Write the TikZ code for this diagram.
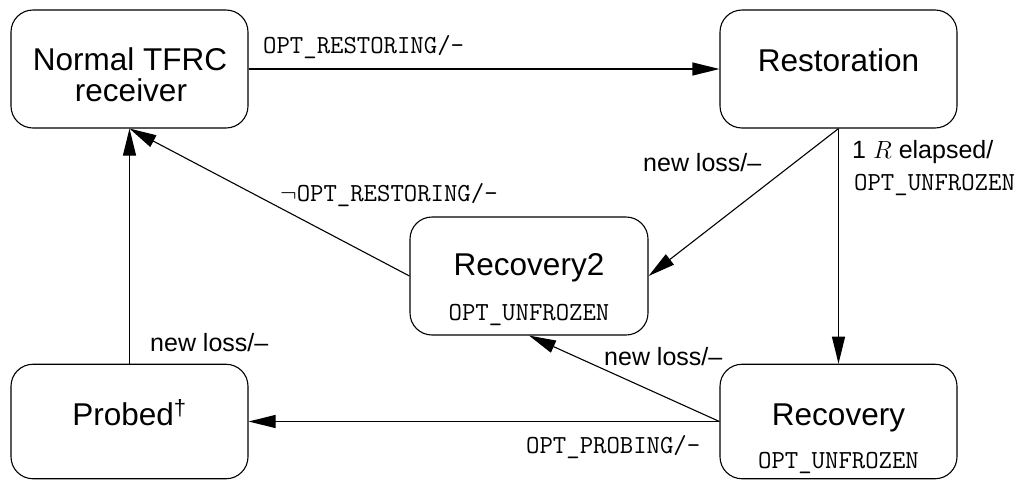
\documentclass[tikz,border=0pt]{standalone}
\usepackage{fontspec}
\setmainfont{Liberation Sans}
\usetikzlibrary{arrows.meta}
\begin{document}
\begin{tikzpicture}[x=1pt,y=-1pt,
  state/.style={draw,line width=1.1pt,rounded corners=22pt,minimum width=237pt,inner sep=0pt},
  bigtxt/.style={font=\fontsize{31.5}{31}\selectfont,inner sep=0pt,anchor=base},
  lbl/.style={font=\fontsize{25}{25}\selectfont,inner sep=0pt,anchor=base west},
  mono/.style={font=\fontsize{26}{26}\selectfont\ttfamily,inner sep=0pt},
  trans/.style={line width=1.1pt,-{Triangle[length=27pt,width=13pt]}}]
\useasboundingbox (0,0) rectangle (1024,480);
% states
\node[state,minimum height=118pt] (N) at (129.5,69) {};
\node[state,minimum height=118pt] (Rs) at (838.5,69) {};
\node[state,minimum height=118pt,minimum width=238pt] (R2) at (529,276) {};
\node[state,minimum height=114.5pt] (P) at (129.5,421.5) {};
\node[state,minimum height=114.5pt] (Rc) at (838.5,421.5) {};
% state texts
\node[bigtxt] (tN1) at (130,70) {Normal TFRC};
\node[bigtxt] (tN2) at (131,101) {receiver};
\node[bigtxt] (tRs) at (838.5,71) {Restoration};
\node[bigtxt] (tR2) at (529,275) {Recovery2};
\node[mono,anchor=base] (tR2b) at (529,320) {OPT\_UNFROZEN};
\node[bigtxt] (tP) at (129.5,425) {Probed\textsuperscript{\textdagger}};
\node[bigtxt] (tRc) at (838.5,425) {Recovery};
\node[mono,anchor=base] (tRcb) at (838.5,468) {OPT\_UNFROZEN};
% transitions
\draw[trans] (N.east) -- (Rs.west);
\draw[trans] (Rs.south) -- (R2.east);
\draw[trans] (Rs.south) -- (Rc.north);
\draw[trans] (Rc.west) -- (R2.south);
\draw[trans] (Rc.west) -- (P.east);
\draw[trans] (P.north) -- (N.south);
\draw[trans] (R2.west) -- (N.south);
% labels
\node[mono,anchor=base west] (l1) at (263,53) {OPT\_RESTORING/-};
\node[mono,anchor=base west] (l2) at (280,201) {$\neg$OPT\_RESTORING/-};
\node[lbl] (l3) at (643,171) {new loss/--};
\node[lbl] (l4a) at (852,158) {1 $R$ elapsed/};
\node[mono,anchor=base west] (l4b) at (854,190) {OPT\_UNFROZEN};
\node[lbl] (l5) at (150,351) {new loss/--};
\node[lbl] (l6) at (604,365) {new loss/--};
\node[mono,anchor=base west] (l7) at (526,453) {OPT\_PROBING/-};
\end{tikzpicture}
\end{document}
